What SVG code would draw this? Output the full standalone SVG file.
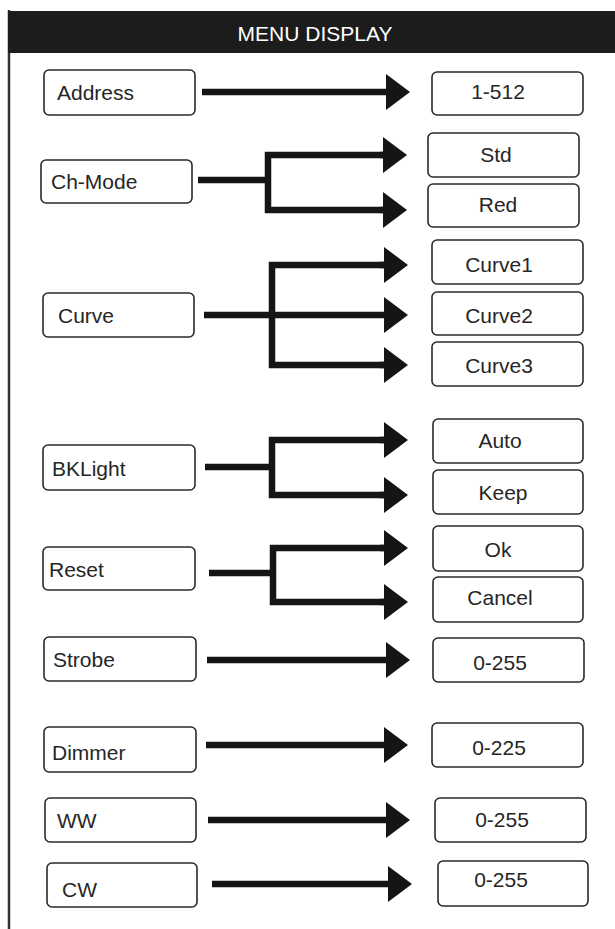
<svg xmlns="http://www.w3.org/2000/svg" width="615" height="929" viewBox="0 0 615 929">
<style>
.bg{fill:#ffffff}
.box{fill:#ffffff;stroke:#2a2a2a;stroke-width:1.6}
.lbl{font-family:"Liberation Sans",Arial,sans-serif;font-size:21px;fill:#262626}
.val{font-family:"Liberation Sans",Arial,sans-serif;font-size:21px;fill:#262626;text-anchor:middle}
.title{font-family:"Liberation Sans",Arial,sans-serif;font-size:21px;fill:#ffffff;text-anchor:middle}
.wire{fill:none;stroke:#151515;stroke-width:6.5;stroke-linejoin:miter}
.arr{fill:none;stroke:#151515;stroke-width:6.5;marker-end:url(#ah)}
</style>
<defs>
<marker id="ah" viewBox="0 0 24 36" refX="1" refY="18" markerWidth="24" markerHeight="36" markerUnits="userSpaceOnUse" orient="auto">
<path d="M0,0 L24,18 L0,36 Z" fill="#151515"/>
</marker>
</defs>
<rect class="bg" x="0" y="0" width="615" height="929"/>
<g id="frame">
<line x1="9" y1="10" x2="9" y2="929" stroke="#333333" stroke-width="2.5"/>
<rect x="8" y="11" width="607" height="42" fill="#1c1c1c"/>
<text class="title" x="315" y="41">MENU DISPLAY</text>
</g>
<g id="connectors">
<path class="arr" d="M202,92 H387"/>
<path class="wire" d="M198,180 H268"/>
<path class="wire" d="M385,155 H268 V210 H385"/>
<path class="arr" d="M380,155 H384"/>
<path class="arr" d="M380,210 H384"/>
<path class="arr" d="M204,315 H385"/>
<path class="wire" d="M385,265 H272 V365 H385"/>
<path class="arr" d="M380,265 H385"/>
<path class="arr" d="M380,365 H385"/>
<path class="wire" d="M205,467 H272"/>
<path class="wire" d="M385,440 H272 V495 H385"/>
<path class="arr" d="M380,440 H385"/>
<path class="arr" d="M380,495 H385"/>
<path class="wire" d="M209,573 H273"/>
<path class="wire" d="M385,548 H273 V602 H385"/>
<path class="arr" d="M380,548 H385"/>
<path class="arr" d="M380,602 H385"/>
<path class="arr" d="M207,660 H387"/>
<path class="arr" d="M206,745 H385"/>
<path class="arr" d="M208,820 H387"/>
<path class="arr" d="M212,884 H389"/>
</g>
<g id="n-address"><rect class="box" x="44" y="70" width="151" height="45" rx="5"/><text class="lbl" x="57" y="100">Address</text></g>
<g id="n-1-512"><rect class="box" x="432" y="72" width="151" height="43" rx="5"/><text class="val" x="498" y="99">1-512</text></g>
<g id="n-chmode"><rect class="box" x="41" y="160" width="151" height="43" rx="5"/><text class="lbl" x="51" y="189">Ch-Mode</text></g>
<g id="n-std"><rect class="box" x="428" y="133" width="151" height="44" rx="5"/><text class="val" x="496" y="162">Std</text></g>
<g id="n-red"><rect class="box" x="428" y="184" width="151" height="43" rx="5"/><text class="val" x="498" y="212">Red</text></g>
<g id="n-curve"><rect class="box" x="43" y="293" width="151" height="44" rx="5"/><text class="lbl" x="58" y="323">Curve</text></g>
<g id="n-curve1"><rect class="box" x="432" y="240" width="151" height="44" rx="5"/><text class="val" x="499" y="272">Curve1</text></g>
<g id="n-curve2"><rect class="box" x="432" y="292" width="151" height="43" rx="5"/><text class="val" x="499" y="323">Curve2</text></g>
<g id="n-curve3"><rect class="box" x="432" y="342" width="151" height="44" rx="5"/><text class="val" x="499" y="373">Curve3</text></g>
<g id="n-bklight"><rect class="box" x="43" y="445" width="152" height="45" rx="5"/><text class="lbl" x="52" y="476">BKLight</text></g>
<g id="n-auto"><rect class="box" x="433" y="419" width="150" height="44" rx="5"/><text class="val" x="500" y="448">Auto</text></g>
<g id="n-keep"><rect class="box" x="433" y="470" width="150" height="44" rx="5"/><text class="val" x="503" y="500">Keep</text></g>
<g id="n-reset"><rect class="box" x="43" y="547" width="152" height="43" rx="5"/><text class="lbl" x="49" y="577">Reset</text></g>
<g id="n-ok"><rect class="box" x="433" y="526" width="150" height="45" rx="5"/><text class="val" x="498" y="557">Ok</text></g>
<g id="n-cancel"><rect class="box" x="433" y="577" width="150" height="45" rx="5"/><text class="val" x="500" y="605">Cancel</text></g>
<g id="n-strobe"><rect class="box" x="44" y="637" width="152" height="44" rx="5"/><text class="lbl" x="53" y="667">Strobe</text></g>
<g id="n-strobe-val"><rect class="box" x="433" y="638" width="151" height="44" rx="5"/><text class="val" x="500" y="670">0-255</text></g>
<g id="n-dimmer"><rect class="box" x="44" y="727" width="152" height="45" rx="5"/><text class="lbl" x="52" y="760">Dimmer</text></g>
<g id="n-dimmer-val"><rect class="box" x="432" y="723" width="151" height="44" rx="5"/><text class="val" x="499" y="755">0-225</text></g>
<g id="n-ww"><rect class="box" x="45" y="798" width="151" height="44" rx="5"/><text class="lbl" x="57" y="828">WW</text></g>
<g id="n-ww-val"><rect class="box" x="435" y="798" width="151" height="44" rx="5"/><text class="val" x="502" y="827">0-255</text></g>
<g id="n-cw"><rect class="box" x="47" y="863" width="150" height="44" rx="5"/><text class="lbl" x="62" y="897">CW</text></g>
<g id="n-cw-val"><rect class="box" x="438" y="861" width="150" height="45" rx="5"/><text class="val" x="501" y="887">0-255</text></g>
</svg>
